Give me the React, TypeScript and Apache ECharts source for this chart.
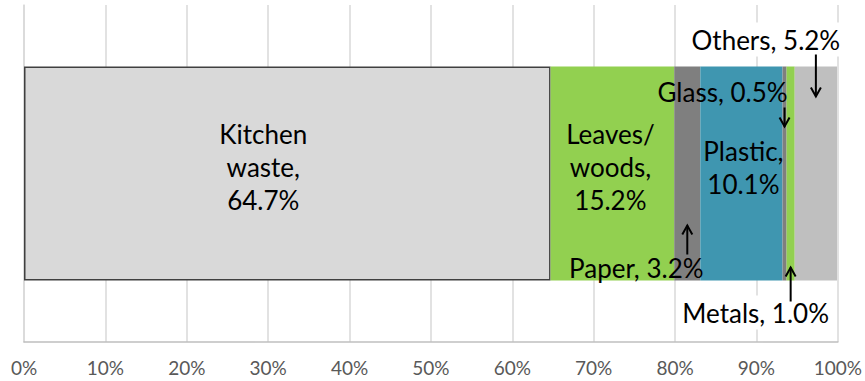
import React, { useEffect, useRef } from "react";
import * as echarts from "echarts";

const categories = ["Waste"];
const names = ["Kitchen waste", "Leaves/woods", "Paper", "Plastic", "Glass", "Metals", "Others"];
const values = [64.7, 15.2, 3.2, 10.1, 0.5, 1.0, 5.2];
const colors = ["#d9d9d9", "#92d050", "#7f7f7f", "#3f96b0", "#7f7f7f", "#92d050", "#bfbfbf"];
const insideLabels = ["Kitchen\nwaste,\n64.7%", "Leaves/\nwoods,\n15.2%", "", "Plastic,\n10.1%", "", "", ""];
const calloutLabels = ["", "", "Paper, 3.2%", "", "Glass, 0.5%", "Metals, 1.0%", "Others, 5.2%"];
const xTicks = [0, 10, 20, 30, 40, 50, 60, 70, 80, 90, 100];

const FONT = "Lato, 'Noto Sans', sans-serif";
const insideOffsets = [[-24, -7], [-2, -7], [0, 0], [2, -6], [0, 0], [0, 0], [0, 0]];

// layout of callouts relative to segment center (dx for text, y offsets from bar center)
const calloutLayout: Record<string, { dx: number; ty: number; a1: number; a2: number; bg: boolean }> = {
  Paper: { dx: -51, ty: 94, a1: 81, a2: 52, bg: false },
  Glass: { dx: -62, ty: -82, a1: -66, a2: -47, bg: false },
  Metals: { dx: -35, ty: 139, a1: 128, a2: 94, bg: true },
  Others: { dx: -50, ty: -134, a1: -119, a2: -77, bg: true },
};

export default function App() {
  const ref = useRef<HTMLDivElement>(null);
  useEffect(() => {
    document.body.style.margin = "0";
    const chart = echarts.init(ref.current!, null, { renderer: "svg" });
    const series = names.map((n, i) => ({
      name: n,
      type: "bar",
      stack: "total",
      barWidth: 214,
      data: [values[i]],
      itemStyle: {
        color: colors[i],
        borderColor: i === 0 ? "#404040" : undefined,
        borderWidth: i === 0 ? 1.5 : 0,
      },
      label: {
        show: insideLabels[i] !== "",
        position: "inside",
        formatter: insideLabels[i],
        color: "#000",
        fontFamily: FONT,
        fontSize: 26,
        lineHeight: 33,
        offset: insideOffsets[i],
      },
      emphasis: { disabled: true },
    }));
    chart.setOption({
      animation: false,
      grid: { left: 24, right: 25, top: 5, bottom: 39 },
      xAxis: {
        type: "value",
        min: xTicks[0],
        max: xTicks[xTicks.length - 1],
        interval: 10,
        axisLine: { show: true, lineStyle: { color: "#bfbfbf", width: 1.5 } },
        axisTick: { show: false },
        splitLine: { show: true, lineStyle: { color: "#d9d9d9", width: 1.5 } },
        axisLabel: {
          formatter: "{value}%",
          color: "#595959",
          fontFamily: FONT,
          fontSize: 19,
          margin: 16,
        },
      },
      yAxis: {
        type: "category",
        data: categories,
        axisLine: { show: true, lineStyle: { color: "#d9d9d9", width: 1.5 } },
        axisTick: { show: false },
        axisLabel: { show: false },
      },
      series,
    });

    const graphics: any[] = [];
    let cum = 0;
    names.forEach((n, i) => {
      const start = cum;
      cum += values[i];
      const key = n;
      const lay = calloutLayout[key];
      if (!lay) return;
      const mid = (start + cum) / 2;
      const p = chart.convertToPixel({ xAxisIndex: 0, yAxisIndex: 0 }, [mid, categories[0]]) as number[];
      const x = p[0];
      const yc = p[1];
      graphics.push({
        type: "text",
        z: 100,
        x: x + lay.dx,
        y: yc + lay.ty,
        style: {
          text: calloutLabels[i],
          fill: "#000",
          font: `26px ${FONT}`,
          align: "center",
          verticalAlign: "middle",
          backgroundColor: lay.bg ? "#ffffff" : undefined,
          padding: lay.bg ? [4, 2, 4, 2] : 0,
        },
      });
      const tail = yc + lay.a1;
      const tip = yc + lay.a2;
      const dir = tip > tail ? -1 : 1;
      graphics.push({
        type: "line",
        z: 101,
        shape: { x1: x, y1: tail, x2: x, y2: tip },
        style: { stroke: "#000", lineWidth: 2 },
      });
      graphics.push({
        type: "polyline",
        z: 101,
        shape: { points: [[x - 5, tip + dir * 9], [x, tip], [x + 5, tip + dir * 9]] },
        style: { stroke: "#000", lineWidth: 2, fill: "none" },
      });
    });
    chart.setOption({ graphic: graphics });
    return () => chart.dispose();
  }, []);
  return <div ref={ref} style={{ width: 865, height: 381 }} />;
}
